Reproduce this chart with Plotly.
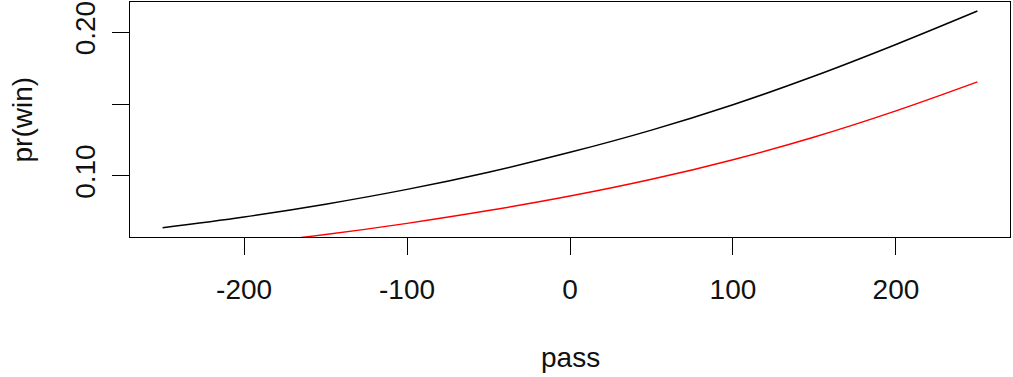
import plotly.graph_objects as go

# Predicted win probability against passing yards, two groups
pass_black = [-250, -200, -150, -100, -50, 0, 50, 100, 150, 200, 250]
prob_black = [0.0638, 0.0713, 0.0802, 0.0905, 0.1025, 0.1163, 0.1318, 0.1495, 0.1695, 0.1915, 0.2148]

pass_red = [-165, -150, -100, -50, 0, 50, 100, 150, 200, 250]
prob_red = [0.0570, 0.0590, 0.0668, 0.0757, 0.0858, 0.0975, 0.1112, 0.1270, 0.1452, 0.1654]

x_ticks = [-200, -100, 0, 100, 200]
y_ticks = [0.10, 0.15, 0.20]
y_tick_text = ["0.10", "", "0.20"]

FONT = "Liberation Sans, Arial, sans-serif"

fig = go.Figure()
fig.add_trace(go.Scatter(x=pass_black, y=prob_black, mode="lines",
                         line=dict(color="black", width=1.5, shape="spline"),
                         showlegend=False))
fig.add_trace(go.Scatter(x=pass_red, y=prob_red, mode="lines",
                         line=dict(color="#ff0000", width=1.5, shape="spline"),
                         showlegend=False))

axis_common = dict(showgrid=False, zeroline=False, showline=True, mirror=True,
                   linecolor="black", linewidth=1.3, ticks="outside", ticklen=17,
                   tickwidth=1.3, tickcolor="black",
                   tickfont=dict(family=FONT, size=28, color="#111"))

fig.update_xaxes(range=[-270, 270], tickvals=x_ticks,
                 ticktext=[str(v) for v in x_ticks], ticklabelstandoff=10,
                 **axis_common)
fig.update_yaxes(range=[0.0573, 0.2211], tickvals=y_ticks, ticktext=y_tick_text,
                 tickangle=-90, ticklabelstandoff=6, **axis_common)

fig.add_annotation(text="pass", xref="paper", yref="paper", x=0.5, y=0,
                   xanchor="center", yanchor="middle", yshift=-120, showarrow=False,
                   font=dict(family=FONT, size=28, color="#111"))
fig.add_annotation(text="pr(win)", xref="paper", yref="paper", x=0, y=0.5,
                   xanchor="center", yanchor="middle", xshift=-108, textangle=-90,
                   showarrow=False, font=dict(family=FONT, size=28, color="#111"))

fig.update_layout(width=1013, height=377, paper_bgcolor="white", plot_bgcolor="white",
                  margin=dict(l=130, r=3, t=2, b=140))

fig.write_html("out.html")
